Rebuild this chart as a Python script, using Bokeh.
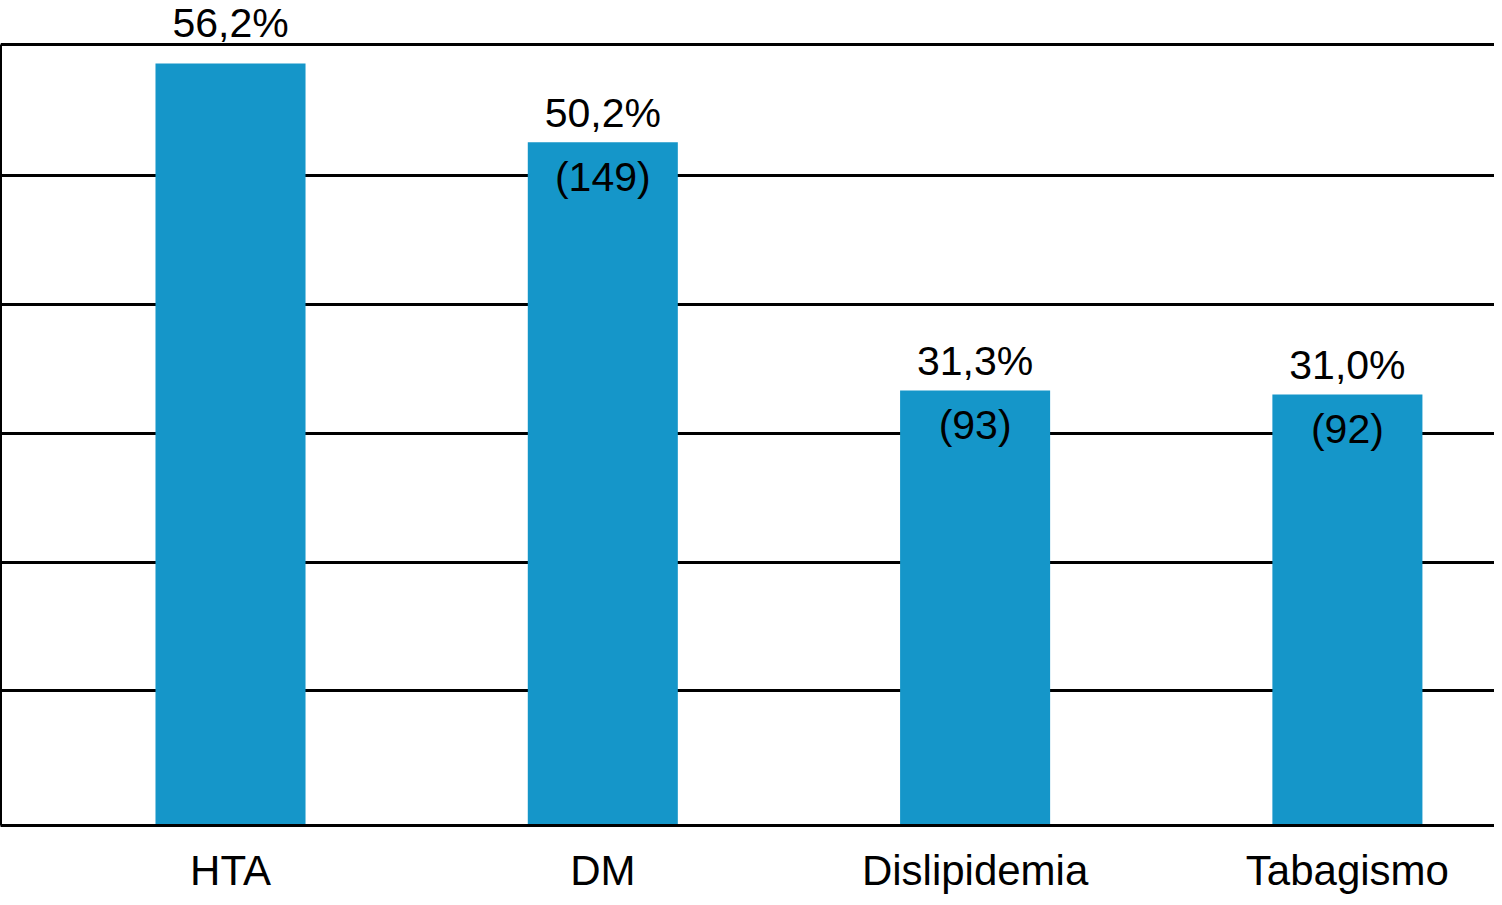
from bokeh.plotting import figure
from bokeh.models import FixedTicker, ColumnDataSource, Range1d
from bokeh.core.properties import value
from bokeh.embed import file_html
from bokeh.resources import INLINE

# ---- data ----
categories = ["HTA", "DM", "Dislipidemia", "Tabagismo"]
percentages = [56.2, 50.2, 31.3, 31.0]
counts = [None, 149, 93, 92]
grid_levels = [8.45, 18.20, 28.03, 37.85, 47.68, 57.65]

# ---- layout ----
W, H = 1494, 897
BOTTOM = 72
Y_START, Y_END = -1.83, 61.0
X_START, X_END = 0.3822, 4.3951
FONT = value("Liberation Sans")
BAR_COLOR = "#1596c9"
TEXT_SHIFT = 15  # px compensation for rendered baseline

frame_h = H - BOTTOM
ppu = frame_h / (Y_END - Y_START)
top_line = grid_levels[-1]

xs = list(range(1, len(categories) + 1))
pct_text = [f"{v:.1f}".replace(".", ",") + "%" for v in percentages]

val_y = []
for v in percentages:
    y = v + 14 / ppu
    if y + 30 / ppu > top_line and y < top_line + 10 / ppu:
        y = top_line + 6 / ppu
    val_y.append(y + TEXT_SHIFT / ppu)

src = ColumnDataSource(dict(x=xs, top=percentages, bottom=[Y_START] * len(xs),
                            vy=val_y, vt=pct_text))

cx = [x for x, c in zip(xs, counts) if c is not None]
cy = [v - (50 - TEXT_SHIFT) / ppu for v, c in zip(percentages, counts) if c is not None]
ct = [f"({c})" for c in counts if c is not None]
csrc = ColumnDataSource(dict(x=cx, y=cy, t=ct))

p = figure(width=W, height=H, output_backend="svg", toolbar_location=None,
           x_range=Range1d(X_START, X_END), y_range=Range1d(Y_START, Y_END),
           min_border_left=0, min_border_right=0, min_border_top=0,
           min_border_bottom=BOTTOM)
p.outline_line_color = None
p.background_fill_color = "white"
p.border_fill_color = "white"

p.vbar(x="x", top="top", bottom="bottom", width=0.403, source=src,
       fill_color=BAR_COLOR, line_color=None)

p.text(x="x", y="vy", text="vt", source=src, text_align="center",
       text_baseline="alphabetic", text_font=FONT, text_font_size="41px",
       text_color="black")
p.text(x="x", y="y", text="t", source=csrc, text_align="center",
       text_baseline="alphabetic", text_font=FONT, text_font_size="41px",
       text_color="black")

# grid
p.xgrid.visible = False
p.ygrid.ticker = FixedTicker(ticks=grid_levels)
p.ygrid.grid_line_color = "black"
p.ygrid.grid_line_width = 3

# x axis
xa = p.xaxis[0]
xa.ticker = FixedTicker(ticks=xs)
xa.major_label_overrides = {i: c for i, c in zip(xs, categories)}
xa.major_label_text_font = "Liberation Sans"
xa.major_label_text_font_size = "42px"
xa.major_label_text_color = "black"
xa.major_tick_out = 0
xa.major_tick_in = 0
xa.minor_tick_out = 0
xa.minor_tick_in = 0
xa.major_label_standoff = 21
xa.axis_line_width = 3
xa.axis_line_color = "black"

# y axis (line only)
ya = p.yaxis[0]
ya.ticker = FixedTicker(ticks=[])
ya.bounds = (Y_START, top_line)
ya.major_tick_out = 0
ya.major_tick_in = 0
ya.minor_tick_out = 0
ya.minor_tick_in = 0
ya.major_label_standoff = 0
ya.axis_line_width = 3
ya.axis_line_color = "black"

open("out.html", "w").write(file_html(p, INLINE))
